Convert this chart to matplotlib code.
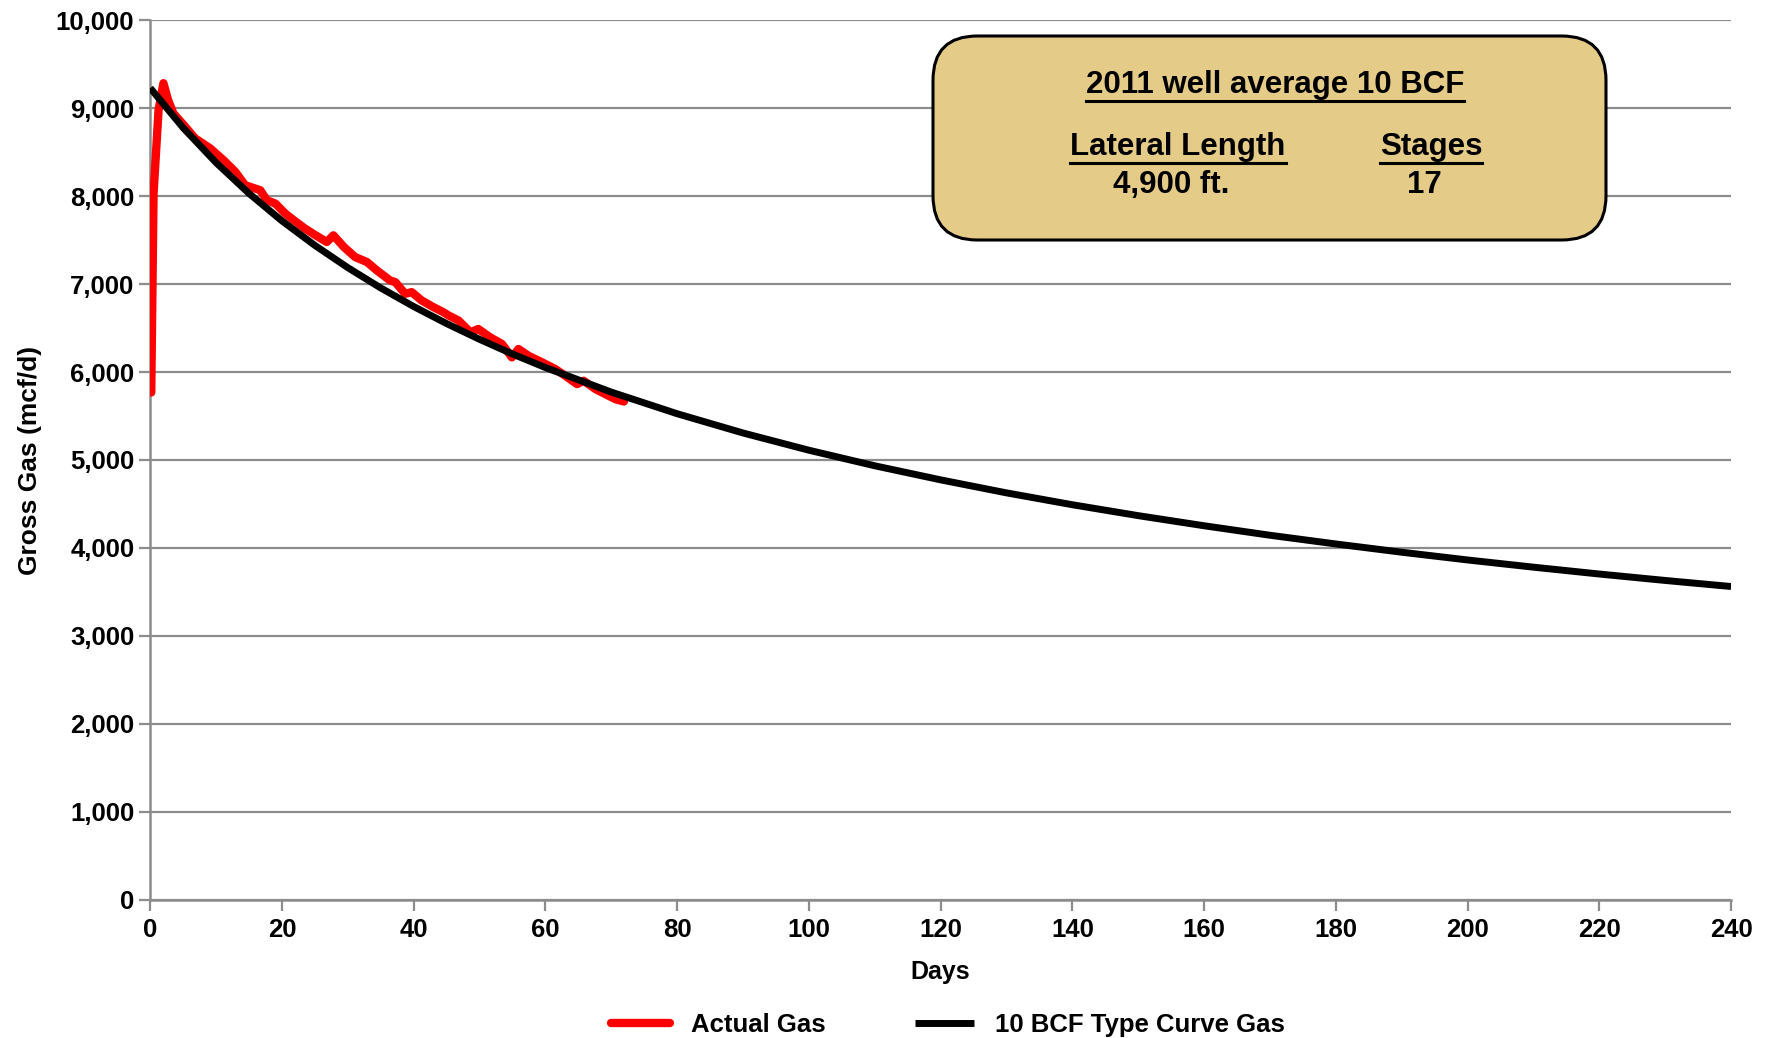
import matplotlib
matplotlib.use("Agg")
import matplotlib.pyplot as plt
from matplotlib.patches import FancyBboxPatch
from matplotlib.lines import Line2D
from matplotlib.ticker import FuncFormatter

plt.rcParams['font.family'] = ['Liberation Sans', 'DejaVu Sans']
plt.rcParams['font.weight'] = 'bold'

# --- data ---
actual_days = [0.15, 0.5, 1.26, 2.0, 2.7, 3.5, 5.3, 6.8, 9.1, 11.1, 12.9, 14.4, 16.7,
               17.7, 19.0, 20.5, 21.8, 23.5, 25.1, 26.8, 27.8, 29.4, 31.1, 32.9, 34.4,
               36.4, 37.2, 38.7, 39.7, 41.2, 43.0, 44.5, 45.3, 46.8, 48.6, 49.8, 51.6,
               53.4, 54.9, 55.9, 57.4, 59.5, 61.5, 63.0, 64.8, 65.8, 67.6, 69.1, 70.6, 71.9]
actual_gas = [5768, 8030, 8981, 9285, 9095, 8943, 8791, 8658, 8544, 8411, 8278, 8125, 8068,
              7954, 7916, 7802, 7726, 7631, 7555, 7479, 7555, 7422, 7308, 7251, 7156,
              7042, 7023, 6890, 6909, 6814, 6738, 6681, 6643, 6586, 6452, 6490, 6395,
              6319, 6167, 6262, 6186, 6110, 6034, 5958, 5863, 5901, 5806, 5749, 5692, 5665]

type_days = [0, 5, 10, 15, 20, 25, 30, 35, 40, 45, 50, 55, 60, 70, 80, 90, 100, 110,
             120, 130, 140, 150, 160, 170, 180, 190, 200, 210, 220, 230, 240]
type_gas = [9230, 8777, 8381, 8031, 7719, 7440, 7187, 6956, 6745, 6551, 6372, 6205, 6051,
            5772, 5526, 5307, 5111, 4934, 4774, 4626, 4491, 4367, 4252, 4144, 4045, 3951,
            3863, 3781, 3703, 3630, 3561]

box_title = "2011 well average 10 BCF"
box_headers = ["Lateral Length", "Stages"]
box_values = ["4,900 ft.", "17"]

# --- figure ---
fig = plt.figure(figsize=(17.72, 10.38), dpi=100)
ax = fig.add_axes([0.0848, 0.1333, 0.8921, 0.8471])

grid_c = '#8c8c8c'
ax.plot(actual_days, actual_gas, color='#ff0000', lw=6, solid_capstyle='round',
        solid_joinstyle='round', label='Actual Gas', zorder=3)
ax.plot(type_days, type_gas, color='black', lw=5, solid_capstyle='butt',
        label='10 BCF Type Curve Gas', zorder=4)

ax.set_xlim(0, 240)
ax.set_ylim(0, 10000)
ax.set_xticks(range(0, 241, 20))
ax.set_yticks(range(0, 10001, 1000))
ax.yaxis.set_major_formatter(FuncFormatter(lambda v, p: f'{v:,.0f}'))
ax.grid(axis='y', color=grid_c, lw=1.6)
ax.set_axisbelow(True)
for s in ['top', 'right']:
    ax.spines[s].set_visible(False)
for s in ['left', 'bottom']:
    ax.spines[s].set_color(grid_c)
    ax.spines[s].set_linewidth(1.8)
ax.tick_params(axis='both', colors=grid_c, length=8, width=1.6, labelcolor='black',
               labelsize=18.5)
ax.tick_params(axis='x', pad=5)
for lab in ax.get_xticklabels() + ax.get_yticklabels():
    lab.set_fontweight('bold')

ax.set_xlabel('Days', fontsize=18, fontweight='bold', labelpad=13)
ax.set_ylabel('Gross Gas (mcf/d)', fontsize=19, fontweight='bold', labelpad=10)

leg = fig.legend(loc='center', bbox_to_anchor=(0.535, 0.013), ncol=2, frameon=False,
                 fontsize=18.5, handlelength=2.3, handletextpad=0.8, columnspacing=3.5)
for t in leg.get_texts():
    t.set_fontweight('bold')

# --- info box ---
box = FancyBboxPatch((933 / 1772, 1 - 240 / 1038), (1606 - 933) / 1772, (240 - 36) / 1038,
                     boxstyle='round,pad=0,rounding_size=0.025', transform=fig.transFigure,
                     facecolor='#e4cb88', edgecolor='black', lw=2.2, zorder=10,
                     mutation_aspect=1772 / 1038)
fig.patches.append(box)

under = []
t = fig.text(1275 / 1772, 1 - 85 / 1038, box_title, ha='center', va='center',
             fontsize=22.5, fontweight='bold', zorder=11)
under.append(t)
hx = [1178 / 1772, 1431 / 1772]
for x, h, v in zip(hx, box_headers, box_values):
    t = fig.text(x, 1 - 147 / 1038, h, ha='center', va='center', fontsize=22.5,
                 fontweight='bold', zorder=11)
    under.append(t)
    fig.text(x - 0.004, 1 - 185 / 1038, v, ha='center', va='center', fontsize=22.5,
             fontweight='bold', zorder=11)

fig.canvas.draw()
r = fig.canvas.get_renderer()
inv = fig.transFigure.inverted()
for t in under:
    bb = t.get_window_extent(r)
    (x0, y0), (x1, _) = inv.transform([(bb.x0, bb.y0 - 1), (bb.x1, bb.y1)])
    fig.lines.append(Line2D([x0, x1], [y0, y0], transform=fig.transFigure,
                            color='black', lw=2.2, zorder=11))

fig.savefig('out.png', dpi=100)
